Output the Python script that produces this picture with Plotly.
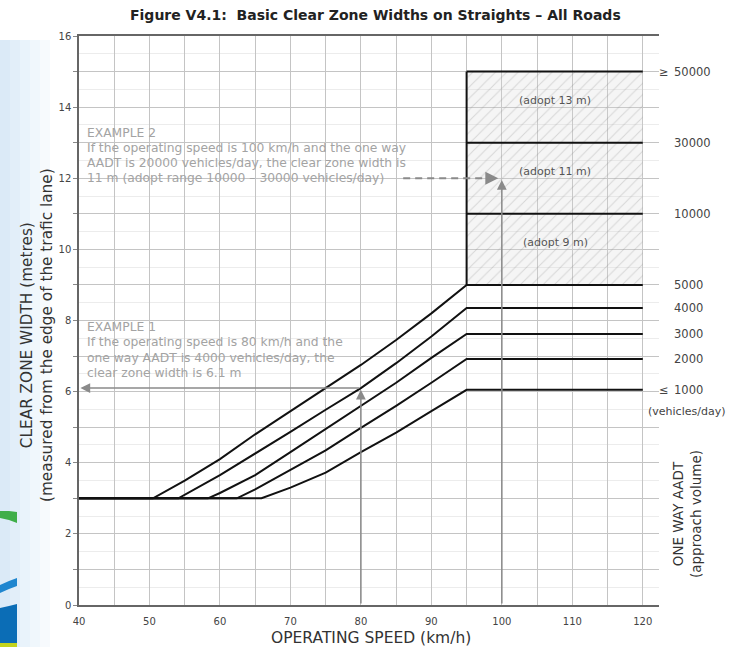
import plotly.graph_objects as go

# ---------------- data ----------------
speed_ticks = [40, 45, 50, 55, 60, 65, 70, 75, 80, 85, 90, 95, 100, 105, 110, 115, 120]
speed_tick_text = ["40", "", "50", "", "60", "", "70", "", "80", "", "90", "", "100", "", "110", "", "120"]
width_ticks = list(range(0, 17))
width_tick_text = [str(v) if v % 2 == 0 else "" for v in width_ticks]

curve_5000_x = [40, 50.5, 55, 60, 65, 70, 75, 80, 85, 90, 95, 120]
curve_5000_y = [3, 3, 3.5, 4.1, 4.8, 5.45, 6.1, 6.75, 7.45, 8.2, 9.0, 9.0]
curve_4000_x = [40, 54.1, 60, 65, 70, 75, 80, 85, 90, 95, 120]
curve_4000_y = [3, 3, 3.65, 4.25, 4.87, 5.49, 6.1, 6.8, 7.55, 8.35, 8.35]
curve_3000_x = [40, 58.3, 60, 65, 70, 75, 80, 85, 90, 95, 120]
curve_3000_y = [3, 3, 3.15, 3.65, 4.3, 4.95, 5.6, 6.25, 6.95, 7.62, 7.62]
curve_2000_x = [40, 62.4, 65, 70, 75, 80, 85, 90, 95, 120]
curve_2000_y = [3, 3, 3.25, 3.8, 4.35, 4.98, 5.6, 6.25, 6.92, 6.92]
curve_1000_x = [40, 65.9, 70, 75, 80, 85, 90, 95, 120]
curve_1000_y = [3, 3, 3.3, 3.72, 4.3, 4.85, 5.45, 6.05, 6.05]

aadt_numbers = ["50000", "30000", "10000", "5000", "4000", "3000", "2000", "1000"]
aadt_prefix = ["≥", "", "", "", "", "", "", "≤"]
aadt_levels = [15, 13, 11, 9, 8.35, 7.62, 6.92, 6.05]

zone_speed = [95, 120]
zone_bounds = [9, 11, 13, 15]
zone_labels = ["(adopt 9 m)", "(adopt 11 m)", "(adopt 13 m)"]
zone_label_y = [10.2, 12.2, 14.2]

ex1_speed, ex1_width = 80, 6.1
ex2_speed, ex2_width = 100, 12.0

example2_lines = [
    "EXAMPLE 2",
    "If the operating speed is 100 km/h and the one way",
    "AADT is 20000 vehicles/day, the clear zone width is",
    "11 m (adopt range 10000 – 30000 vehicles/day)",
]
example1_lines = [
    "EXAMPLE 1",
    "If the operating speed is 80 km/h and the",
    "one way AADT is 4000 vehicles/day, the",
    "clear zone width is 6.1 m",
]

# ---------------- layout geometry helpers ----------------
L, R, T, B = 79, 77, 36, 42
W, H = 736, 647
PW, PH = W - L - R, H - T - B
def px(xp):
    return (xp - L) / PW
def py(yp):
    return (H - B - yp) / PH
def ypix_to_data(yp):
    return (H - B - yp) / PH * 16

FONT = "DejaVu Sans"
GRAY_TXT = "#a3a3a3"
ARROW = "#8a8a8a"

fig = go.Figure()

# hatched zone
fig.add_trace(go.Scatter(
    x=[zone_speed[0], zone_speed[1], zone_speed[1], zone_speed[0], zone_speed[0]],
    y=[zone_bounds[0], zone_bounds[0], zone_bounds[-1], zone_bounds[-1], zone_bounds[0]],
    fill="toself", mode="lines", line=dict(width=0),
    fillcolor="rgba(0,0,0,0)",
    fillpattern=dict(shape="/", fgcolor="rgba(140,140,140,0.6)",
                     bgcolor="rgba(215,215,215,0.25)", size=8, solidity=0.12),
    hoverinfo="skip", showlegend=False))

# curves
for cx, cy in [(curve_5000_x, curve_5000_y), (curve_4000_x, curve_4000_y),
               (curve_3000_x, curve_3000_y), (curve_2000_x, curve_2000_y),
               (curve_1000_x, curve_1000_y)]:
    fig.add_trace(go.Scatter(x=cx, y=cy, mode="lines",
                             line=dict(color="#111111", width=2),
                             hoverinfo="skip", showlegend=False))

# zone box lines
for b in zone_bounds[1:]:
    fig.add_trace(go.Scatter(x=zone_speed, y=[b, b], mode="lines",
                             line=dict(color="#111111", width=2),
                             hoverinfo="skip", showlegend=False))
fig.add_trace(go.Scatter(x=[zone_speed[0], zone_speed[0]], y=[zone_bounds[0], zone_bounds[-1]],
                         mode="lines", line=dict(color="#111111", width=2),
                         hoverinfo="skip", showlegend=False))

# example 2 dashed line
fig.add_trace(go.Scatter(x=[86.0, ex2_speed - 1.2], y=[ex2_width, ex2_width], mode="lines",
                         line=dict(color=ARROW, width=2, dash="7px,5px"),
                         hoverinfo="skip", showlegend=False))

annotations = []
# arrows
def arrow(x, y, ax, ay, w=1.5):
    annotations.append(dict(x=x, y=y, ax=ax, ay=ay, xref="x", yref="y", axref="x", ayref="y",
                            showarrow=True, arrowhead=2, arrowsize=1.3, arrowwidth=w,
                            arrowcolor=ARROW, text=""))
arrow(ex1_speed, ex1_width - 0.05, ex1_speed, 0)
arrow(40.2, ex1_width, ex1_speed, ex1_width)
arrow(ex2_speed, ex2_width - 0.05, ex2_speed, 0)
arrow(ex2_speed - 0.5, ex2_width, ex2_speed - 1.5, ex2_width, w=2)

# example texts
for i, t in enumerate(example2_lines):
    annotations.append(dict(x=px(85), y=ypix_to_data(133 + i * 15), xref="paper", yref="y",
                            text=t, showarrow=False, xanchor="left", yanchor="middle",
                            font=dict(family=FONT, size=12.3, color=GRAY_TXT)))
for i, t in enumerate(example1_lines):
    annotations.append(dict(x=px(85), y=ypix_to_data(327 + i * 15.3), xref="paper", yref="y",
                            text=t, showarrow=False, xanchor="left", yanchor="middle",
                            font=dict(family=FONT, size=12.3, color=GRAY_TXT)))

# zone labels
for t, yv in zip(zone_labels, zone_label_y):
    annotations.append(dict(x=107.6, y=yv, xref="x", yref="y", text=t, showarrow=False,
                            xanchor="center", yanchor="middle",
                            font=dict(family=FONT, size=11, color="#555555")))

# right-side AADT labels
for num, pre, lv in zip(aadt_numbers, aadt_prefix, aadt_levels):
    annotations.append(dict(x=px(672), y=lv, xref="paper", yref="y", text=num, showarrow=False,
                            xanchor="left", yanchor="middle",
                            font=dict(family=FONT, size=11.5, color="#444444")))
    if pre:
        annotations.append(dict(x=px(671), y=lv, xref="paper", yref="y", text=pre, showarrow=False,
                                xanchor="right", yanchor="middle",
                                font=dict(family=FONT, size=11.5, color="#444444")))
annotations.append(dict(x=px(686), y=5.43, xref="paper", yref="y", text="(vehicles/day)",
                        showarrow=False, xanchor="center", yanchor="middle",
                        font=dict(family=FONT, size=11, color="#444444")))

# titles
annotations.append(dict(x=px(375), y=py(15), xref="paper", yref="paper",
                        text="<b>Figure V4.1:  Basic Clear Zone Widths on Straights – All Roads</b>",
                        showarrow=False, xanchor="center", yanchor="middle",
                        font=dict(family=FONT, size=14, color="#222222")))
annotations.append(dict(x=px(371), y=py(638), xref="paper", yref="paper",
                        text="OPERATING SPEED (km/h)", showarrow=False,
                        xanchor="center", yanchor="middle",
                        font=dict(family=FONT, size=15.5, color="#333333")))
annotations.append(dict(x=px(37), y=py(335), xref="paper", yref="paper",
                        text="CLEAR ZONE WIDTH (metres)<br>(measured from the edge of the trafic lane)",
                        showarrow=False, textangle=-90, xanchor="center", yanchor="middle",
                        font=dict(family=FONT, size=15.3, color="#333333")))
annotations.append(dict(x=px(687), y=py(514), xref="paper", yref="paper",
                        text="ONE WAY AADT<br>(approach volume)", showarrow=False, textangle=-90,
                        xanchor="center", yanchor="middle",
                        font=dict(family=FONT, size=13.5, color="#333333")))

# left decoration (slide background)
shapes = []
for x0, x1, c in [(0, 10, "#dbeaf7"), (10, 20, "#e2eef9"), (20, 30, "#e9f3fb"),
                  (30, 40, "#f0f7fc"), (40, 50, "#f7fafd")]:
    shapes.append(dict(type="rect", xref="paper", yref="paper", x0=px(x0), x1=px(x1),
                       y0=py(647), y1=py(40), fillcolor=c, line=dict(width=0), layer="below"))
def path(points):
    s = "M " + " L ".join(f"{px(a):.4f},{py(b):.4f}" for a, b in points) + " Z"
    return s
shapes.append(dict(type="path", xref="paper", yref="paper", layer="below",
                   path=path([(0, 511), (9, 511), (17, 512), (17, 523), (9, 520), (0, 518)]),
                   fillcolor="#3fae49", line=dict(width=0)))
shapes.append(dict(type="path", xref="paper", yref="paper", layer="below",
                   path=path([(0, 585), (9, 581), (17, 578), (17, 586), (9, 589), (0, 593)]),
                   fillcolor="#1f86cf", line=dict(width=0)))
shapes.append(dict(type="path", xref="paper", yref="paper", layer="below",
                   path=path([(0, 608), (9, 606), (17, 604), (17, 643), (0, 643)]),
                   fillcolor="#0b6db6", line=dict(width=0)))
shapes.append(dict(type="rect", xref="paper", yref="paper", layer="below",
                   x0=px(0), x1=px(17), y0=py(647), y1=py(643),
                   fillcolor="#c3d31c", line=dict(width=0)))

fig.update_layout(
    width=W, height=H,
    margin=dict(l=L, r=R, t=T, b=B),
    paper_bgcolor="white", plot_bgcolor="rgba(0,0,0,0)",
    showlegend=False,
    annotations=annotations,
    shapes=shapes,
    font=dict(family=FONT),
)
fig.update_xaxes(
    range=[40, 122.3], tickmode="array", tickvals=speed_ticks, ticktext=speed_tick_text,
    showgrid=True, gridcolor="#c4c4c4", gridwidth=1,
    showline=True, linecolor="#666666", linewidth=1.5, mirror=True,
    ticks="", ticklabelstandoff=6, tickfont=dict(family=FONT, size=10, color="#444444"),
    zeroline=False, fixedrange=True,
)
fig.update_yaxes(
    range=[0, 16], tickmode="array", tickvals=width_ticks, ticktext=width_tick_text,
    showgrid=True, gridcolor="#c4c4c4", gridwidth=1,
    minor=dict(dtick=0.5, showgrid=True, gridcolor="#ececec", gridwidth=1),
    showline=True, linecolor="#666666", linewidth=1.5, mirror=False,
    ticks="outside", ticklen=4, tickcolor="#888888",
    tickfont=dict(family=FONT, size=10, color="#444444"),
    zeroline=False, fixedrange=True,
)

fig.write_html("out.html", config={"displayModeBar": False},
               post_script="document.body.style.margin='0';document.body.style.overflow='hidden';")
